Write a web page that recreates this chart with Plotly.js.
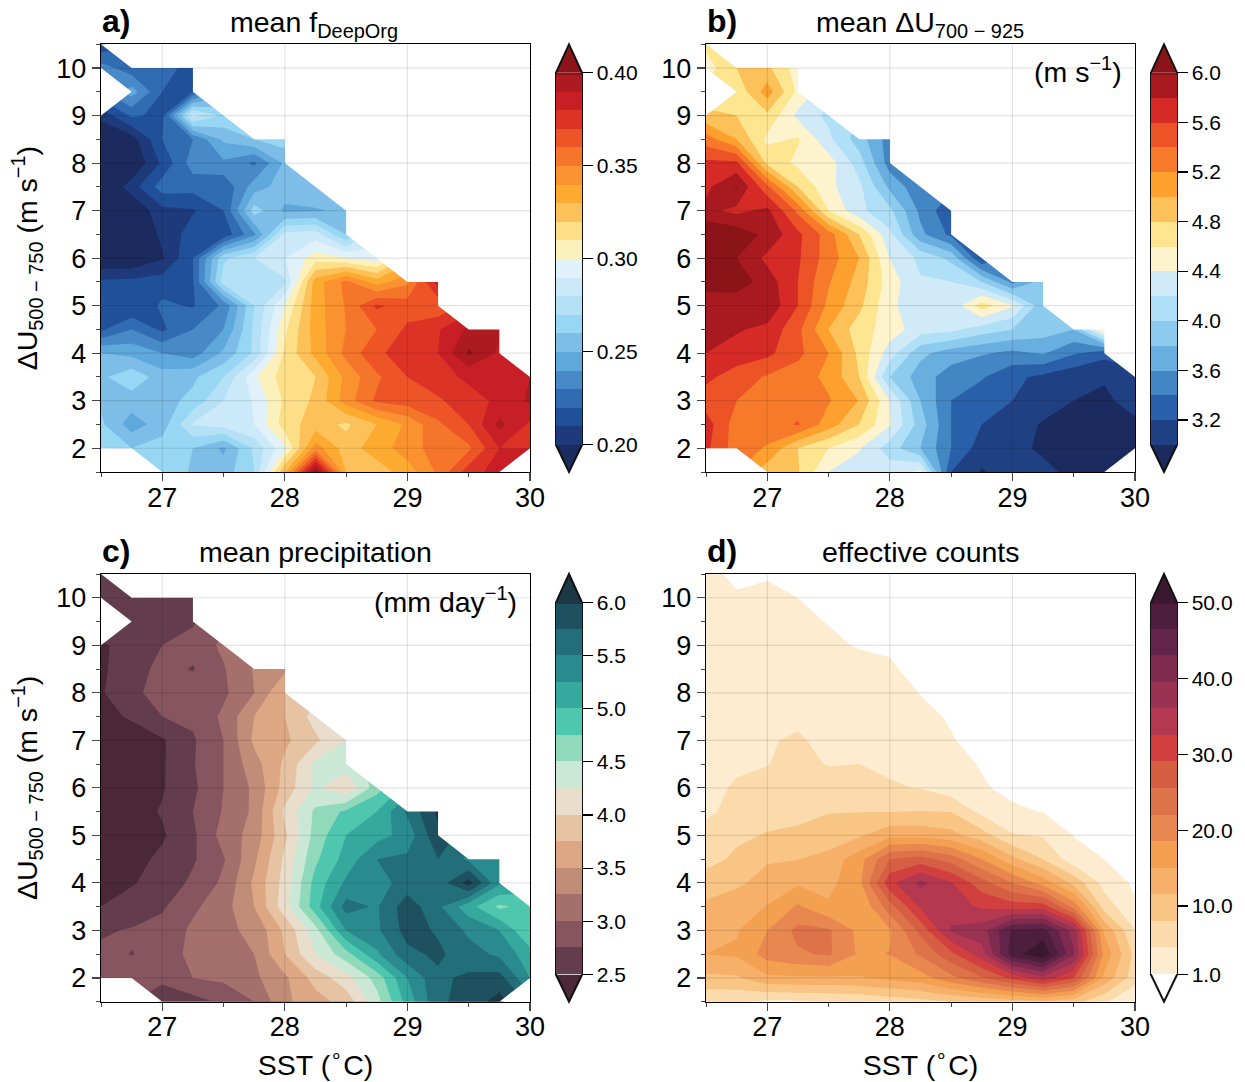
<!DOCTYPE html>
<html>
<head>
<meta charset="utf-8">
<script src="https://cdn.plot.ly/plotly-3.0.1.min.js"></script>
<style>html,body{margin:0;padding:0;background:#fff}</style>
</head>
<body>
<div id="chart" style="width:1245px;height:1082px"></div>
<script>
const N = null;
const sst = [26.5,26.75,27,27.25,27.5,27.75,28,28.25,28.5,28.75,29,29.25,29.5,29.75,30];
const shear = [1.5,2,2.5,3,3.5,4,4.5,5,5.5,6,6.5,7,7.5,8,8.5,9,9.5,10,10.5];

const fDeepOrg = [
[N,N,.265,.259,.255,.27,.33,.405,.33,.325,.335,.352,.375,.385,N],
[.265,.26,.265,.26,.248,.272,.298,.345,.325,.335,.345,.355,.358,.38,.38],
[.262,.245,.255,.281,.285,.29,.315,.325,.318,.33,.342,.358,.37,.393,.378],
[.258,.255,.256,.263,.28,.291,.312,.322,.345,.362,.365,.368,.378,.381,.392],
[.258,.267,.255,.258,.27,.298,.315,.32,.343,.358,.37,.378,.381,.386,.39],
[.25,.247,.24,.235,.252,.272,.312,.333,.353,.368,.375,.38,.402,.388,N],
[.218,.23,.218,.23,.24,.272,.308,.335,.35,.36,.372,.379,.392,.393,N],
[.215,.21,.222,.219,.232,.27,.30,.335,.351,.372,.365,.362,N,N,N],
[.212,.213,.215,.219,.275,.275,.278,.335,.353,.335,.348,.385,N,N,N],
[.19,.19,.199,.22,.268,.28,.29,.305,.30,.295,N,N,N,N,N],
[.19,.19,.202,.215,.213,.238,.283,.285,.26,N,N,N,N,N,N],
[.19,.19,.207,.209,.22,.265,.248,.249,.252,N,N,N,N,N,N],
[.188,.205,.225,.224,.222,.245,.255,.258,N,N,N,N,N,N,N],
[.19,.19,.212,.235,.238,.228,.252,N,N,N,N,N,N,N,N],
[.19,.195,.22,.23,.252,.26,.265,N,N,N,N,N,N,N,N],
[.203,.222,.217,.285,.268,N,N,N,N,N,N,N,N,N,N],
[N,.245,.22,.22,N,N,N,N,N,N,N,N,N,N,N],
[.235,.224,.222,.218,N,N,N,N,N,N,N,N,N,N,N],
[.212,N,N,N,N,N,N,N,N,N,N,N,N,N,N]];

const deltaU = [
[N,N,4.88,4.82,4.4,4.3,4.3,4.45,3.2,2.98,3.1,3.05,2.95,2.9,N],
[5.65,5.3,5.18,4.8,4.6,4.42,4.1,3.8,3.4,3.1,3.05,2.97,2.9,2.9,2.98],
[5.7,5.3,5.3,5.42,5.1,4.8,4.42,3.9,3.4,3.2,3.1,2.98,2.9,2.85,2.9],
[5.5,5.4,5.3,5.3,5.22,4.99,4.4,3.8,3.4,3.28,3.2,3.1,3.0,2.9,3.2],
[5.65,5.5,5.38,5.3,5.15,4.8,4.0,3.7,3.5,3.42,3.25,3.15,3.05,3.05,3.05],
[5.8,5.72,5.65,5.45,5.2,4.75,4.3,3.85,3.7,3.62,3.55,3.62,3.42,3.25,N],
[5.85,5.82,5.75,5.45,5.0,4.7,4.5,4.3,4.25,4.1,4.0,3.9,3.8,4.65,N],
[5.8,5.85,5.95,5.6,5.15,4.85,4.45,4.25,4.25,4.7,4.42,3.85,N,N,N],
[6.15,6.12,5.9,5.6,5.22,4.92,4.5,4.22,4.2,4.0,3.55,3.9,N,N,N],
[6.15,6.0,5.75,5.63,5.3,5.0,4.4,4.15,3.95,3.2,N,N,N,N,N],
[6.2,6.12,5.95,5.65,5.3,4.8,4.25,3.65,3.35,N,N,N,N,N,N],
[5.85,5.75,5.85,5.35,4.6,4.25,4.05,3.55,3.25,N,N,N,N,N,N],
[5.75,6.02,5.45,4.8,4.45,4.25,3.75,3.45,N,N,N,N,N,N,N],
[5.65,5.65,4.75,4.55,4.5,4.1,3.5,N,N,N,N,N,N,N,N],
[5.3,5.0,4.55,4.62,4.25,3.9,3.5,N,N,N,N,N,N,N,N],
[4.85,4.8,4.75,4.35,4.15,N,N,N,N,N,N,N,N,N,N],
[N,4.65,5.1,4.55,N,N,N,N,N,N,N,N,N,N,N],
[4.5,4.8,4.85,4.5,N,N,N,N,N,N,N,N,N,N,N],
[4.65,N,N,N,N,N,N,N,N,N,N,N,N,N,N]];

const precip = [
[N,N,2.62,2.65,2.8,3.0,3.45,3.65,3.85,4.4,5.1,5.7,5.85,6.1,N],
[2.85,2.85,2.8,3.0,3.05,3.2,3.45,3.85,4.15,4.6,5.25,5.7,5.8,5.85,5.25],
[2.8,2.745,2.8,3.1,3.2,3.25,3.75,4.25,4.65,5.2,5.68,5.8,5.6,5.45,5.1],
[2.72,2.77,2.83,3.05,3.2,3.3,3.8,4.4,5.25,5.45,5.85,5.72,5.45,5.25,4.75],
[2.5,2.6,2.72,2.95,3.15,3.5,4.15,4.9,5.6,5.47,5.9,5.55,5.1,4.7,4.85],
[2.45,2.48,2.6,2.8,3.05,3.55,4.1,4.85,5.3,5.4,5.6,5.6,6.1,5.3,N],
[2.42,2.42,2.55,2.72,2.98,3.45,4.05,4.7,5.1,5.5,5.55,5.75,5.45,5.3,N],
[2.4,2.4,2.47,2.7,3.1,3.35,3.95,4.6,5.0,5.15,5.35,5.95,N,N,N],
[2.4,2.4,2.52,2.75,3.02,3.3,4.05,4.55,4.8,5.0,5.55,6.05,N,N,N],
[2.4,2.4,2.48,2.7,3.0,3.3,3.85,4.3,4.0,4.65,N,N,N,N,N],
[2.4,2.4,2.47,2.73,3.0,3.4,3.8,4.3,4.4,N,N,N,N,N,N],
[2.42,2.42,2.47,2.72,3.0,3.55,3.7,3.95,4.25,N,N,N,N,N,N],
[2.45,2.52,2.75,2.8,3.05,3.5,3.75,4.1,N,N,N,N,N,N,N],
[2.47,2.72,2.8,2.9,2.95,3.25,3.75,N,N,N,N,N,N,N,N],
[2.47,2.6,2.85,2.73,2.98,3.27,3.45,N,N,N,N,N,N,N,N],
[2.48,2.55,2.75,2.85,3.05,N,N,N,N,N,N,N,N,N,N],
[N,2.7,2.7,2.72,N,N,N,N,N,N,N,N,N,N,N],
[2.65,2.75,2.72,2.55,N,N,N,N,N,N,N,N,N,N,N],
[2.7,N,N,N,N,N,N,N,N,N,N,N,N,N,N]];

const counts = [
[4.8,5,3.8,4,4.5,5,6,7,8,9,10,11,9.5,5,1.2],
[10.8,11,14.3,14.5,14.5,14.7,15.8,17,21,25,30,35,29,14,6],
[15,15.5,20,21.5,22.5,18,18.6,22.5,28,34.5,48.5,53,40,17.5,7],
[13.5,14.7,18.5,23,22.5,17.5,18,26.5,36.5,38,47,48,38,14.5,4.6],
[12,13,15.2,19,15.5,15,24,33,34,32,30.8,31,21,6.5,1.3],
[10.2,11,12.6,14.5,14,17.5,31.5,37,32.8,27,22,17,10.5,3.2,.5],
[6.5,8.8,11.2,11.4,12.8,17,25.5,27,24,18.5,12.5,8,2.4,1,.3],
[5.8,7.2,8.3,8.8,9.2,11,14,13.8,12.7,9.5,4.8,4.2,.9,.4,.1],
[3.8,5.7,6.3,6.9,7.9,7.9,7.9,8.1,7.9,3.5,1.3,.95,.3,0,0],
[3.5,4.9,5.5,6,6.3,6,5,4.3,2.5,1.2,.55,.2,0,0,0],
[3.4,4,4.4,5.5,4.3,4.5,3.7,2.6,1.7,.85,.2,0,0,0,0],
[3.2,3.5,4.3,4.8,3.8,3.3,2.8,1.8,1.1,.5,0,0,0,0,0],
[3,3.3,3.8,4,3.5,3,2.2,1.4,.85,.2,0,0,0,0,0],
[3,3,3.3,3.5,3,2.5,1.8,.95,.4,0,0,0,0,0,0],
[2.5,2.7,3,3,2.5,2,1.2,.5,0,0,0,0,0,0,0],
[2,2.2,2.3,2,1.5,.8,.8,.2,0,0,0,0,0,0,0],
[2,2,2,1.5,.9,.4,.2,0,0,0,0,0,0,0,0],
[2,1.2,1.5,1,.5,0,0,0,0,0,0,0,0,0,0],
[1.5,.6,.8,.3,0,0,0,0,0,0,0,0,0,0,0]];

const colorsRdBu = ['#1b2a5f','#1e3a7b','#21509b','#316cb2','#488ac7','#5fa8db','#7dbde7','#97d7f3','#b4e1f6','#cbe9f9','#e0f1f9','#fdf1bb','#fcdf87','#fcc259','#fdab30','#fa922f','#f5752a','#ed5527','#dd3327','#c81e26','#ad1a20','#8b1418'];
const colorsShear = ['#1b2a5f','#1f4083','#2a60aa','#4286c4','#68aedf','#8dcbee','#b0e0f7','#d0eaf7','#fdf3cd','#fde68f','#fcc259','#fda02e','#f67a2a','#ec5428','#d62a27','#a81a20','#8b1418'];
const colorsPrecip = ['#4a2836','#633d4c','#86555f','#a56f6c','#c18c78','#dea784','#e6c4a3','#e9decb','#cbe8d7','#90dabb','#4fc7ae','#36a99f','#2a8b8e','#226e79','#1e515f','#1b3844'];
const colorsCounts = ['#ffffff','#fdecd0','#fbdbab','#f9c585','#f6b06a','#f3a051','#e88850','#de7248','#d65f43','#d13f3f','#b4384f','#9a3353','#7f2b50','#62244a','#4e1f3c','#3c1830'];

const ticksA = [0.20,0.25,0.30,0.35,0.40];
const ticksB = [3.2,3.6,4.0,4.4,4.8,5.2,5.6,6.0];
const ticksC = [2.5,3.0,3.5,4.0,4.5,5.0,5.5,6.0];
const ticksD = [1,10,20,30,40,50];
const labelsA = ['0.20','0.25','0.30','0.35','0.40'];
const labelsB = ['3.2','3.6','4.0','4.4','4.8','5.2','5.6','6.0'];
const labelsC = ['2.5','3.0','3.5','4.0','4.5','5.0','5.5','6.0'];
const labelsD = ['1.0','10.0','20.0','30.0','40.0','50.0'];

// outline of the area without samples (panels a, b, c)
const emptyX = [26.5,26.75,27.25,27.25,27.75,28,28,28.5,28.5,29,29.25,29.25,29.5,29.75,29.75,30,30,26.5,N,
                30,30,29.75,N, 27,26.75,26.5,26.5,N, 26.5,26.75,26.5];
const emptyY = [10.5,10,10,9.5,8.5,8.5,8,7,6.5,5.5,5.5,5,4.5,4.5,4,3.5,10.5,10.5,N,
                2,1.5,1.5,N, 1.5,2,2,1.5,N, 9,9.5,10];

const gridX = [27,28,29];
const gridY = [2,3,4,5,6,7,8,9,10];

const W = 1245, H = 1082;
const px = v => v / W, py = v => 1 - v / H;
const font = 'Liberation Sans, Arial, sans-serif';

function stepScale(cols) {
  const n = cols.length - 2, out = [[0, cols[0]], [1e-6, cols[1]]];
  for (let k = 0; k < n; k++) out.push([(k + .5) / n, cols[k + 1]]);
  out.push([1 - 1e-6, cols[n]]); out.push([1, cols[n + 1]]);
  return out;
}

const panels = [
 {z:fDeepOrg,c:colorsRdBu,s:.20,e:.40,st:.01,t:ticksA,l:labelsA,L:101,R:530,T:44.3,B:472,cb:556,mask:true,letter:'a)',title:'mean f<sub>DeepOrg</sub>',tc:314,td:0},
 {z:deltaU,c:colorsShear,s:3.0,e:6.0,st:.2,t:ticksB,l:labelsB,L:706,R:1135,T:44.3,B:472,cb:1151,mask:true,letter:'b)',title:'mean ΔU<sub>700 − 925</sub>',tc:920,td:0},
 {z:precip,c:colorsPrecip,s:2.5,e:6.0,st:.25,t:ticksC,l:labelsC,L:101,R:530,T:574,B:1001.7,cb:556,mask:true,letter:'c)',title:'mean precipitation',tc:315.5,td:4},
 {z:counts,c:colorsCounts,s:1,e:50,st:3.5,t:ticksD,l:labelsD,L:706,R:1135,T:574,B:1001.7,cb:1151,mask:false,letter:'d)',title:'effective counts',tc:921,td:4}
];

const data = [], shapes = [], annotations = [];
const layout = {width:W,height:H,margin:{l:0,r:0,t:0,b:0,autoexpand:false},paper_bgcolor:'#fff',plot_bgcolor:'#fff',showlegend:false,font:{family:font,color:'#000'}};

panels.forEach((p,i)=>{
  const n = i+1, xa = 'x'+(n>1?n:''), ya = 'y'+(n>1?n:'');
  const showXTitle = i>=2, showYTitle = i%2===0;
  const xax = {anchor:ya,domain:[px(p.L),px(p.R)],range:[26.5,30],tick0:27,dtick:1,ticks:'outside',ticklen:8,tickwidth:1.2,ticklabelstandoff:-7,
    tickfont:{size:27,family:font},showgrid:false,zeroline:false,showline:true,mirror:true,linecolor:'#000',linewidth:1.3,layer:'above traces',
    minor:{tick0:26.5,dtick:.5,ticks:'outside',ticklen:4,tickwidth:1,showgrid:false},automargin:false};
  const yax = {anchor:xa,domain:[py(p.B),py(p.T)],range:[1.5,10.5],tick0:2,dtick:1,ticks:'outside',ticklen:8,tickwidth:1.2,
    tickfont:{size:27,family:font},showgrid:false,zeroline:false,showline:true,mirror:true,linecolor:'#000',linewidth:1.3,layer:'above traces',
    minor:{tick0:1.5,dtick:.5,ticks:'outside',ticklen:4,tickwidth:1,showgrid:false},automargin:false};
  if(showXTitle) xax.title = {text:'SST (<sup>∘</sup>C)',font:{size:28.5,family:font},standoff:13};
  if(showYTitle) yax.title = {text:'ΔU<sub>500 − 750</sub> (m s<sup>−1</sup>)',font:{size:28.5,family:font},standoff:10};
  layout['xaxis'+(n>1?n:'')] = xax;
  layout['yaxis'+(n>1?n:'')] = yax;
  const barTop = p.T + 28.4, barBot = p.B - 27, barLen = barBot - barTop;
  data.push({type:'contour',x:sst,y:shear,z:p.z,xaxis:xa,yaxis:ya,connectgaps:false,
    autocontour:false,contours:{start:p.s,end:p.e,size:p.st,coloring:'fill',showlines:false},line:{width:0,smoothing:0},
    zmin:p.s,zmax:p.e,colorscale:stepScale(p.c),hoverinfo:'skip',
    colorbar:{x:px(p.cb),xref:'paper',xanchor:'left',xpad:0,ypad:0,y:py(barTop),yref:'paper',yanchor:'top',thicknessmode:'pixels',thickness:26,lenmode:'pixels',len:barLen,
      outlinewidth:0,bordercolor:'rgba(0,0,0,0)',borderwidth:0,tickmode:'array',tickvals:p.t,ticktext:p.l,ticks:'outside',ticklen:11,tickwidth:1.2,tickcolor:'#000',
      tickfont:{size:21,family:font}}});
  if(p.mask) data.push({type:'scatter',x:emptyX,y:emptyY,xaxis:xa,yaxis:ya,mode:'lines',line:{width:0,color:'#fff'},fill:'toself',fillcolor:'#fff',hoverinfo:'skip'});
  gridX.forEach(v=>shapes.push({type:'line',layer:'above',xref:xa,yref:ya+' domain',x0:v,x1:v,y0:0,y1:1,line:{color:'rgba(0,0,0,.11)',width:1.2}}));
  gridY.forEach(v=>shapes.push({type:'line',layer:'above',xref:xa+' domain',yref:ya,x0:0,x1:1,y0:v,y1:v,line:{color:'rgba(0,0,0,.11)',width:1.2}}));
  // colorbar end caps and a single outline round bar and caps
  const l=p.cb, r=p.cb+26, m=p.cb+13;
  const cap=(tipY,baseY,col)=>shapes.push({type:'path',layer:'above',xref:'paper',yref:'paper',path:`M ${px(l)} ${py(baseY)} L ${px(m)} ${py(tipY)} L ${px(r)} ${py(baseY)} Z`,fillcolor:col,line:{width:0}});
  cap(p.T,barTop,p.c[p.c.length-1]);
  cap(p.B,barBot,p.c[0]);
  shapes.push({type:'path',layer:'above',xref:'paper',yref:'paper',
    path:`M ${px(m)} ${py(p.T)} L ${px(r)} ${py(barTop)} L ${px(r)} ${py(barBot)} L ${px(m)} ${py(p.B)} L ${px(l)} ${py(barBot)} L ${px(l)} ${py(barTop)} Z`,
    line:{color:'#111',width:2}});
  annotations.push({xref:'paper',yref:'paper',x:px(p.L),y:py(p.T-3),xanchor:'left',yanchor:'bottom',text:'<b>'+p.letter+'</b>',showarrow:false,font:{size:32,family:font,color:'#000'},xshift:-1});
  annotations.push({xref:'paper',yref:'paper',x:px(p.tc),y:py(p.T-p.td),xanchor:'center',yanchor:'bottom',text:p.title,showarrow:false,font:{size:28.5,family:font,color:'#000'}});
});
annotations.push({xref:'paper',yref:'paper',x:px(1124),y:py(90),xanchor:'right',yanchor:'bottom',text:'(m s<sup>−1</sup>)',showarrow:false,font:{size:28.5,family:font,color:'#000'}});
annotations.push({xref:'paper',yref:'paper',x:px(519),y:py(620),xanchor:'right',yanchor:'bottom',text:'(mm day<sup>−1</sup>)',showarrow:false,font:{size:28.5,family:font,color:'#000'}});
layout.shapes = shapes; layout.annotations = annotations;
Plotly.newPlot('chart',data,layout,{displayModeBar:false,staticPlot:true});
</script>
</body>
</html>
